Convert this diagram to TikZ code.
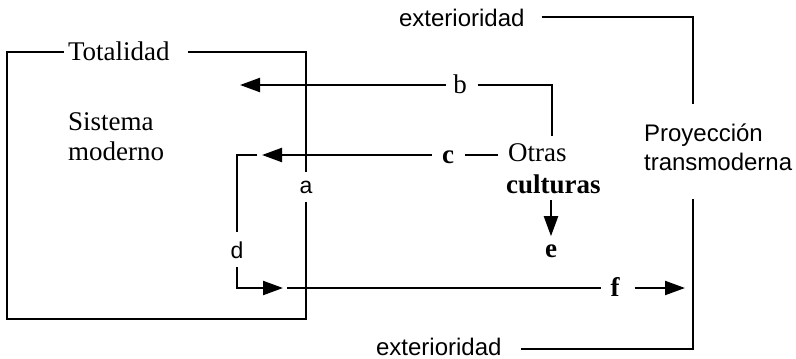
\documentclass[tikz,border=0pt]{standalone}
\usepackage{fontspec}
\setmainfont{Liberation Serif}
\setsansfont{Liberation Sans}
\usetikzlibrary{arrows.meta}
\begin{document}
\begin{tikzpicture}[x=1pt,y=-1pt,
  line width=2.2pt,
  serif/.style={font=\fontsize{27}{33}\selectfont, inner sep=0pt, anchor=base west},
  bserif/.style={font=\fontsize{27}{33}\selectfont\bfseries, inner sep=0pt, anchor=base},
  sans/.style={font=\sffamily\fontsize{24}{29}\selectfont, inner sep=0pt, anchor=base west},
  letter/.style={font=\sffamily\fontsize{23}{28}\selectfont, inner sep=0pt},
  tip/.style={-{Triangle[length=20pt,width=14pt]}},
  seg/.style={line cap=butt}]
\useasboundingbox (0,0) rectangle (796,359);

% Totality frame with the system inside
\node[serif] (tot) at (67,60) {Totalidad};
\node[serif] (sis1) at (67,130) {Sistema};
\node[serif] (sis2) at (67,160) {moderno};
\node[letter] (a) at (306,187) {a};
\coordinate (tl) at (7,52);
\coordinate (tr) at (306,52);
\coordinate (bl) at (7,319);
\coordinate (br) at (306,319);
\draw[seg] ([xshift=-3pt]tot.west |- tl) -- (tl) -- (bl) -- (br) -- ([yshift=-8pt]a.south);
\draw[seg] ([xshift=17pt]tot.east |- tr) -- (tr) -- ([yshift=8pt]a.north);

% Other cultures
\node[serif] (oc1) at (507,161) {Otras};
\node[serif, font=\fontsize{27}{33}\selectfont\bfseries] (oc2) at (505,193) {culturas};
\coordinate (ocb) at (552,136);
\coordinate (oce) at (551,200);

% b
\node[bserif, font=\fontsize{27}{33}\selectfont] (b) at (460,93) {b};
\coordinate (btip) at (240,85);
\coordinate (bcorner) at (552,85);
\draw[seg] ([xshift=10pt]b.east |- bcorner) -- (bcorner) -- (ocb);
\draw[seg,tip] ([xshift=-6pt]b.west |- btip) -- (btip);

% c
\node[bserif] (c) at (448,163) {c};
\coordinate (ctip) at (262,155);
\draw[seg] ([xshift=10pt]c.east |- ctip) -- ([xshift=-9pt]oc1.west |- ctip);
\draw[seg,tip] ([xshift=-9pt]c.west |- ctip) -- (ctip);

% d
\node[letter] (d) at (237,250) {d};
\coordinate (dstart) at (257,155);
\coordinate (dtop) at (237,155);
\coordinate (dbot) at (237,288);
\coordinate (dtip) at (283,288);
\draw[seg] (dstart) -- (dtop) -- ([yshift=8pt]d.north);
\draw[seg,tip] ([yshift=-7pt]d.south) -- (dbot) -- (dtip);

% e
\node[bserif] (e) at (551,257) {e};
\draw[seg,tip] (oce) -- ([yshift=7pt]e.north);

% f
\node[bserif] (f) at (615,296) {f};
\coordinate (fstart) at (287,288);
\coordinate (ftip) at (685,288);
\draw[seg] (fstart) -- ([xshift=-8pt]f.west |- fstart);
\draw[seg,tip] ([xshift=14pt]f.east |- ftip) -- (ftip);

% Exteriority and transmodern projection
\node[sans] (ext1) at (398,26) {exterioridad};
\node[sans] (ext2) at (375,355) {exterioridad};
\node[sans] (proy1) at (643,141) {Proyección};
\node[sans] (proy2) at (643,170) {transmoderna};
\coordinate (et) at (693,17);
\coordinate (eb) at (693,349);
\draw[seg] ([xshift=16pt]ext1.east |- et) -- (et) -- ([yshift=18pt]proy1.north -| et);
\draw[seg] ([yshift=-28pt]proy2.south -| eb) -- (eb) -- ([xshift=18pt]ext2.east |- eb);
\end{tikzpicture}
\end{document}
